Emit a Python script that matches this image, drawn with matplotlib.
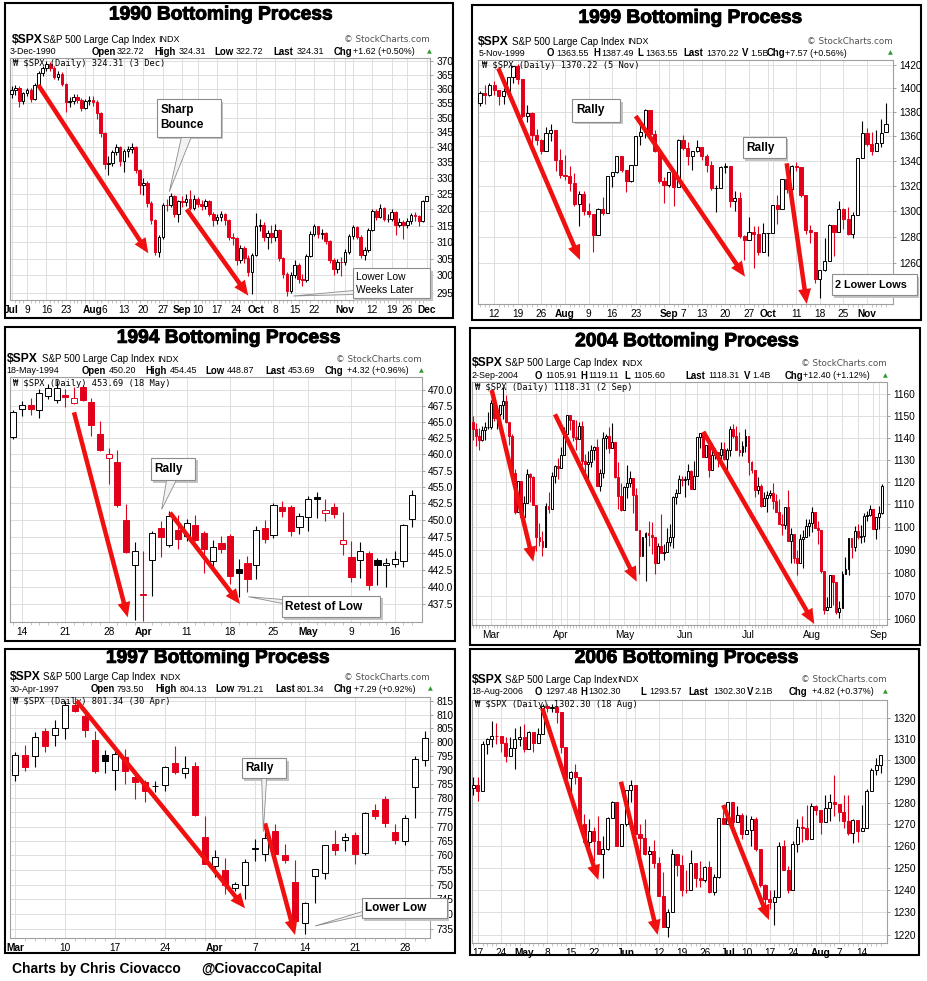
import numpy as np
import pandas as pd
import matplotlib
matplotlib.use("Agg")
import matplotlib.pyplot as plt
import matplotlib.patheffects as pe
from matplotlib.patches import FancyArrow, Rectangle, Polygon
from matplotlib.transforms import IdentityTransform
from matplotlib.ticker import FixedLocator, NullLocator, FuncFormatter

plt.rcParams["font.family"] = ["Liberation Sans", "DejaVu Sans"]

# ---------------- 1990 (Jul 2 - Dec 3) ----------------
o90 = [358.02, 359.54, 360.16, 355.68, 358.42, 359.52, 356.49, 361.23, 365.44, 367.31,
       368.95, 367.52, 364.22, 365.32, 361.61, 355.31, 355.79, 357.09, 355.91, 353.44,
       355.55, 356.15, 355.52, 351.48, 344.86, 334.43, 334.83, 338.35, 339.94, 335.52,
       338.84, 339.39, 340.06, 332.39, 327.83, 328.51, 321.86, 316.55, 307.06, 311.51,
       321.44, 321.34, 324.19, 318.71, 322.56, 322.21, 323.40, 320.46, 323.40, 321.63,
       321.04, 322.54, 318.65, 316.83, 317.77, 318.60, 316.60, 311.48, 311.32, 304.59,
       308.26, 305.06, 300.97, 306.05, 314.94, 315.21, 311.40, 312.69, 311.50, 313.48,
       305.10, 300.39, 295.46, 300.03, 303.23, 298.92, 298.76, 305.74, 312.48, 314.76,
       312.36, 312.60, 310.17, 304.71, 301.88, 304.06, 303.99, 307.02, 311.85, 314.59,
       311.62, 306.01, 307.61, 313.74, 319.48, 317.67, 320.40, 317.02, 317.12, 319.34,
       315.31, 316.03, 315.10, 316.51, 318.10, 317.95, 316.42, 322.72]
h90 = [361.0, 361.3, 360.8, 359.0, 360.3, 360.2, 361.9, 366.2, 368.2, 369.8,
       369.4, 368.2, 366.3, 366.0, 361.9, 357.0, 358.2, 358.0, 356.6, 356.4,
       357.6, 357.5, 356.0, 352.0, 345.1, 337.0, 339.2, 341.0, 340.5, 339.6,
       340.4, 341.3, 340.3, 332.8, 329.9, 329.0, 322.5, 317.0, 312.2, 322.0,
       323.4, 325.3, 324.5, 323.0, 324.2, 324.8, 326.2, 324.4, 324.0, 322.8,
       323.2, 323.0, 319.3, 318.7, 319.5, 318.9, 317.0, 312.6, 311.6, 309.2,
       308.9, 306.0, 306.8, 319.0, 317.0, 316.0, 313.6, 315.2, 315.6, 313.8,
       305.6, 301.0, 301.0, 304.5, 303.8, 300.4, 306.3, 313.2, 315.6, 315.0,
       314.0, 313.0, 310.6, 305.2, 305.0, 305.5, 307.8, 312.4, 315.3, 315.0,
       312.0, 308.4, 314.2, 320.0, 320.2, 321.8, 320.8, 318.6, 320.0, 319.6,
       317.2, 316.8, 317.3, 318.8, 319.2, 318.3, 323.0, 324.31]
l90 = [356.9, 357.8, 353.8, 354.6, 357.3, 355.3, 356.0, 360.8, 364.5, 366.2,
       366.4, 363.5, 363.2, 360.8, 352.0, 353.6, 354.8, 354.9, 352.3, 352.8,
       354.4, 354.0, 349.6, 343.3, 333.0, 331.0, 333.8, 337.4, 334.0, 332.0,
       336.9, 338.2, 331.6, 325.0, 324.5, 320.8, 315.5, 306.0, 305.6, 310.8,
       319.6, 320.6, 317.5, 316.0, 320.8, 321.0, 319.8, 319.8, 320.8, 319.9,
       320.2, 317.9, 315.0, 315.6, 316.4, 315.3, 310.5, 309.0, 303.0, 303.8,
       303.6, 299.8, 294.6, 305.8, 313.2, 310.4, 308.0, 309.6, 310.2, 304.4,
       299.2, 294.0, 295.0, 299.4, 297.8, 296.8, 298.0, 305.4, 311.8, 311.2,
       310.8, 309.3, 303.8, 300.2, 300.8, 299.8, 303.2, 306.5, 311.0, 310.8,
       305.2, 304.7, 307.0, 313.2, 316.8, 317.2, 316.3, 316.0, 316.5, 312.0,
       314.6, 311.0, 314.3, 315.6, 316.4, 315.0, 316.0, 322.72]
c90 = [359.54, 360.16, 355.68, 358.42, 359.52, 356.49, 361.23, 365.44, 367.31, 368.95,
       367.52, 364.22, 365.32, 361.61, 355.31, 355.79, 357.09, 355.91, 353.44, 355.55,
       356.15, 355.52, 351.48, 344.86, 334.43, 334.83, 338.35, 339.94, 335.52, 338.84,
       339.39, 340.06, 332.39, 327.83, 328.51, 321.86, 316.55, 307.06, 311.51, 321.44,
       321.34, 324.19, 318.71, 322.56, 322.21, 323.40, 320.46, 323.40, 321.63, 321.04,
       322.54, 318.65, 316.83, 317.77, 318.60, 316.60, 311.48, 311.32, 304.59, 308.26,
       305.06, 300.97, 306.05, 314.94, 315.21, 311.40, 312.69, 311.50, 313.48, 305.10,
       300.39, 295.46, 300.03, 303.23, 298.92, 298.76, 305.74, 312.48, 314.76, 312.36,
       312.60, 310.17, 304.71, 301.88, 304.06, 303.99, 307.02, 311.85, 314.59, 311.62,
       306.01, 307.61, 313.74, 319.48, 317.67, 320.40, 317.02, 317.12, 319.34, 315.31,
       316.03, 315.10, 316.51, 318.10, 317.95, 316.42, 322.69, 324.31]
t90 = [("1990-07-02", "Jul"), ("1990-07-09", "9"), ("1990-07-16", "16"), ("1990-07-23", "23"),
       ("1990-08-01", "Aug"), ("1990-08-06", "6"), ("1990-08-13", "13"), ("1990-08-20", "20"),
       ("1990-08-27", "27"), ("1990-09-04", "Sep"), ("1990-09-10", "10"), ("1990-09-17", "17"),
       ("1990-09-24", "24"), ("1990-10-01", "Oct"), ("1990-10-08", "8"), ("1990-10-15", "15"),
       ("1990-10-22", "22"), ("1990-11-01", "Nov"), ("1990-11-12", "12"), ("1990-11-19", "19"),
       ("1990-11-26", "26"), ("1990-12-03", "Dec")]

# ---------------- 1999 (Jul 7 - Nov 5) ----------------
o99 = [1388.12, 1395.86, 1394.42, 1403.28, 1399.10, 1393.56, 1398.17, 1409.62, 1418.78, 1407.65,
       1377.10, 1379.29, 1360.97, 1356.94, 1347.76, 1362.84, 1365.40, 1341.03, 1328.72, 1328.05,
       1322.18, 1305.33, 1313.71, 1300.29, 1297.80, 1281.43, 1301.93, 1298.16, 1327.68, 1330.77,
       1344.16, 1332.84, 1323.59, 1336.61, 1360.22, 1363.50, 1381.79, 1362.01, 1348.27, 1324.02,
       1320.41, 1331.07, 1319.11, 1357.24, 1350.45, 1344.15, 1347.66, 1351.66, 1344.13, 1336.29,
       1317.97, 1318.48, 1335.42, 1335.53, 1307.58, 1310.51, 1280.41, 1277.36, 1283.31, 1282.20,
       1268.37, 1282.71, 1282.81, 1304.60, 1301.35, 1325.40, 1317.64, 1336.02, 1335.21, 1313.04,
       1285.55, 1283.42, 1247.41, 1254.13, 1261.32, 1289.43, 1283.61, 1301.65, 1293.63, 1281.91,
       1296.71, 1342.44, 1362.93, 1354.12, 1347.74, 1354.93, 1363.55]
h99 = [1398.0, 1403.0, 1404.5, 1406.0, 1399.1, 1400.0, 1410.0, 1418.8, 1421.0, 1407.7,
       1386.0, 1380.0, 1366.0, 1358.0, 1368.0, 1370.0, 1365.4, 1350.0, 1345.0, 1336.0,
       1330.0, 1316.0, 1316.0, 1306.0, 1298.0, 1302.0, 1311.0, 1327.7, 1331.0, 1344.2,
       1344.2, 1332.8, 1336.6, 1360.2, 1373.0, 1382.8, 1381.8, 1365.0, 1350.0, 1327.0,
       1331.1, 1331.1, 1357.7, 1361.0, 1355.0, 1347.7, 1357.0, 1351.7, 1346.0, 1340.0,
       1321.0, 1335.6, 1338.0, 1335.5, 1316.0, 1315.0, 1281.0, 1295.0, 1288.0, 1288.0,
       1291.0, 1283.2, 1304.6, 1313.0, 1325.5, 1328.0, 1337.0, 1339.0, 1335.2, 1313.0,
       1289.0, 1283.4, 1254.2, 1279.0, 1289.5, 1289.4, 1308.0, 1302.0, 1303.0, 1299.0,
       1342.5, 1373.0, 1367.0, 1364.0, 1365.0, 1374.0, 1387.49]
l99 = [1385.0, 1386.6, 1393.6, 1394.5, 1386.0, 1386.5, 1398.0, 1404.5, 1404.0, 1375.0,
       1372.0, 1354.0, 1353.0, 1346.0, 1347.7, 1356.0, 1332.0, 1326.0, 1325.0, 1316.0,
       1304.0, 1288.0, 1297.0, 1295.0, 1268.0, 1281.4, 1297.0, 1298.2, 1319.0, 1330.0,
       1331.0, 1315.0, 1323.0, 1336.6, 1353.0, 1359.0, 1361.0, 1347.0, 1322.0, 1306.0,
       1319.0, 1304.0, 1319.1, 1349.0, 1337.0, 1333.0, 1347.0, 1341.0, 1331.0, 1317.0,
       1299.0, 1318.0, 1330.0, 1303.0, 1300.0, 1279.0, 1262.0, 1277.3, 1256.0, 1266.0,
       1268.0, 1265.0, 1282.8, 1290.0, 1301.4, 1314.0, 1302.0, 1332.0, 1311.0, 1282.0,
       1275.0, 1245.0, 1233.7, 1254.0, 1261.3, 1265.0, 1283.6, 1286.0, 1281.0, 1279.0,
       1296.7, 1342.4, 1352.0, 1345.0, 1347.7, 1351.0, 1363.55]
c99 = [1395.86, 1394.42, 1403.28, 1399.10, 1393.56, 1398.17, 1409.62, 1418.78, 1407.65, 1377.10,
       1379.29, 1360.97, 1356.94, 1347.76, 1362.84, 1365.40, 1341.03, 1328.72, 1328.05, 1322.18,
       1305.33, 1313.71, 1300.29, 1297.80, 1281.43, 1301.93, 1298.16, 1327.68, 1330.77, 1344.16,
       1332.84, 1323.59, 1336.61, 1360.22, 1363.50, 1381.79, 1362.01, 1348.27, 1324.02, 1320.41,
       1331.07, 1319.11, 1357.24, 1350.45, 1344.15, 1347.66, 1351.66, 1344.13, 1336.29, 1317.97,
       1318.48, 1335.42, 1335.53, 1307.58, 1310.51, 1280.41, 1277.36, 1283.31, 1282.20, 1268.37,
       1282.71, 1282.81, 1304.60, 1301.35, 1325.40, 1317.64, 1336.02, 1335.21, 1313.04, 1285.55,
       1283.42, 1247.41, 1254.13, 1261.32, 1289.43, 1283.61, 1301.65, 1293.63, 1281.91, 1296.71,
       1342.44, 1362.93, 1354.12, 1347.74, 1354.93, 1362.64, 1370.23]
t99 = [("1999-07-12", "12"), ("1999-07-19", "19"), ("1999-07-26", "26"), ("1999-08-02", "Aug"),
       ("1999-08-09", "9"), ("1999-08-16", "16"), ("1999-08-23", "23"), ("1999-09-01", "Sep"),
       ("1999-09-07", "7"), ("1999-09-13", "13"), ("1999-09-20", "20"), ("1999-09-27", "27"),
       ("1999-10-01", "Oct"), ("1999-10-11", "11"), ("1999-10-18", "18"), ("1999-10-25", "25"),
       ("1999-11-01", "Nov")]

# ---------------- 1994 (Mar 11 - May 18) ----------------
o94 = [462.6, 467.0, 467.6, 466.8, 469.0, 468.4, 469.2, 468.0, 470.4, 468.1,
       463.2, 459.4, 458.8, 450.0, 443.3, 438.8, 444.0, 448.8, 446.3, 448.5,
       447.6, 449.3, 448.0, 443.8, 446.5, 447.6, 442.6, 443.6, 443.3, 448.8,
       447.8, 452.0, 452.0, 448.9, 450.4, 453.5, 451.0, 452.0, 446.4, 444.5,
       444.0, 445.0, 444.0, 443.2, 443.4, 443.9, 450.2]
h94 = [466.8, 468.2, 468.8, 470.2, 471.0, 471.5, 470.2, 470.4, 470.8, 468.8,
       465.2, 461.0, 460.6, 452.4, 446.7, 445.3, 448.4, 449.8, 451.3, 450.8,
       450.2, 450.7, 448.4, 447.0, 447.6, 447.9, 444.1, 444.6, 449.1, 450.0,
       452.6, 452.8, 452.3, 451.0, 453.6, 454.2, 453.2, 452.6, 451.2, 446.9,
       446.7, 445.4, 444.3, 444.3, 445.4, 449.4, 454.45]
l94 = [462.4, 466.0, 466.1, 465.6, 468.6, 467.9, 467.3, 467.8, 468.3, 462.8,
       460.5, 455.5, 452.0, 445.0, 435.2, 435.0, 438.7, 444.5, 446.0, 445.6,
       446.8, 446.9, 442.0, 443.0, 445.1, 440.5, 438.6, 439.2, 441.2, 446.5,
       447.3, 450.4, 447.6, 447.9, 448.4, 450.3, 449.8, 450.3, 444.7, 440.8,
       441.3, 439.6, 440.3, 440.0, 443.0, 443.0, 448.87]
c94 = [466.5, 467.6, 467.0, 469.5, 470.3, 470.3, 468.9, 468.8, 468.5, 464.5,
       460.6, 460.0, 452.3, 445.2, 445.3, 438.9, 448.0, 447.5, 450.6, 447.1,
       449.6, 447.0, 445.6, 446.0, 445.7, 441.6, 442.0, 441.2, 448.5, 447.2,
       452.3, 451.3, 448.4, 450.6, 453.1, 453.2, 451.5, 450.9, 447.0, 441.4,
       445.3, 440.3, 443.2, 443.6, 444.2, 449.3, 453.69]
t94 = [("1994-03-14", "14"), ("1994-03-21", "21"), ("1994-03-28", "28"), ("1994-04-04", "Apr"),
       ("1994-04-11", "11"), ("1994-04-18", "18"), ("1994-04-25", "25"), ("1994-05-02", "May"),
       ("1994-05-09", "9"), ("1994-05-16", "16")]

# ---------------- 2004 (Feb 20 - Sep 2) ----------------
o04 = [1147.00, 1144.11, 1140.99, 1139.09, 1143.67, 1144.91, 1144.94, 1155.97, 1149.10, 1151.03,
       1154.87, 1156.86, 1147.20, 1140.58, 1123.89, 1106.78, 1120.57, 1104.49, 1110.70, 1123.75,
       1122.32, 1109.78, 1095.40, 1093.95, 1091.33, 1109.19, 1108.06, 1122.47, 1127.00, 1126.21,
       1132.17, 1141.81, 1150.57, 1148.16, 1140.53, 1139.32, 1145.20, 1129.44, 1128.17, 1128.84,
       1134.61, 1135.82, 1118.15, 1124.09, 1139.93, 1140.60, 1135.53, 1138.11, 1122.41, 1113.89,
       1107.30, 1117.49, 1119.55, 1121.53, 1113.99, 1098.70, 1087.12, 1095.45, 1097.28, 1096.44,
       1095.70, 1084.10, 1091.49, 1088.68, 1089.19, 1093.56, 1095.41, 1113.05, 1114.94, 1121.28,
       1120.68, 1121.20, 1124.99, 1116.64, 1122.50, 1140.42, 1142.18, 1131.33, 1136.47, 1125.29,
       1132.01, 1133.56, 1132.05, 1135.02, 1130.30, 1134.41, 1144.06, 1140.65, 1134.43, 1133.35,
       1136.20, 1140.84, 1128.94, 1125.38, 1116.21, 1118.33, 1109.11, 1112.81, 1114.35, 1115.14,
       1111.47, 1106.69, 1101.39, 1100.90, 1108.67, 1093.88, 1096.84, 1086.20, 1084.07, 1094.83,
       1095.42, 1100.43, 1101.72, 1106.62, 1099.69, 1098.63, 1080.70, 1063.97, 1065.22, 1079.04,
       1075.79, 1063.23, 1064.80, 1079.34, 1081.71, 1095.17, 1091.23, 1098.35, 1095.68, 1096.19,
       1104.96, 1105.09, 1107.77, 1099.15, 1104.24, 1105.91]
h04 = [1149.8, 1146.7, 1144.5, 1145.2, 1147.4, 1151.7, 1157.5, 1157.0, 1152.4, 1155.0,
       1163.2, 1159.9, 1147.3, 1141.5, 1126.0, 1120.6, 1120.6, 1113.8, 1125.8, 1123.8,
       1122.7, 1109.8, 1101.5, 1098.3, 1110.4, 1115.3, 1124.4, 1127.6, 1130.8, 1135.7,
       1144.8, 1150.6, 1150.6, 1148.2, 1148.0, 1147.3, 1147.8, 1132.5, 1134.1, 1136.8,
       1136.2, 1139.3, 1125.7, 1142.8, 1141.9, 1145.1, 1146.6, 1138.1, 1128.8, 1119.3,
       1118.2, 1127.7, 1125.1, 1121.5, 1117.3, 1098.7, 1095.7, 1097.6, 1102.8, 1102.1,
       1095.7, 1092.9, 1105.9, 1092.6, 1099.6, 1101.3, 1113.8, 1116.7, 1123.0, 1122.7,
       1122.7, 1128.1, 1125.3, 1129.2, 1140.5, 1142.2, 1142.2, 1136.5, 1136.5, 1137.4,
       1135.3, 1133.6, 1138.0, 1138.0, 1135.1, 1145.2, 1146.3, 1145.2, 1142.6, 1138.3,
       1144.2, 1140.8, 1129.2, 1125.4, 1122.4, 1119.1, 1115.6, 1116.1, 1116.3, 1119.6,
       1114.6, 1112.2, 1105.5, 1108.9, 1116.3, 1099.7, 1096.8, 1089.8, 1096.7, 1098.6,
       1103.5, 1103.3, 1108.6, 1106.6, 1102.5, 1098.8, 1080.7, 1069.5, 1079.0, 1079.1,
       1075.8, 1067.6, 1080.7, 1086.8, 1095.2, 1095.2, 1100.3, 1101.4, 1100.9, 1106.3,
       1106.8, 1109.7, 1107.8, 1104.3, 1109.2, 1119.11]
l04 = [1139.0, 1136.0, 1134.4, 1138.6, 1138.8, 1144.0, 1143.9, 1147.7, 1143.8, 1149.8,
       1148.8, 1146.9, 1136.8, 1122.5, 1105.9, 1106.8, 1103.4, 1102.6, 1110.7, 1111.1,
       1109.7, 1089.5, 1091.6, 1087.2, 1091.3, 1106.1, 1108.1, 1119.7, 1121.5, 1126.2,
       1132.2, 1141.6, 1143.3, 1138.4, 1134.5, 1139.3, 1127.7, 1122.2, 1120.8, 1126.9,
       1129.8, 1118.1, 1116.0, 1121.9, 1134.8, 1132.9, 1135.5, 1121.7, 1108.0, 1107.2,
       1107.3, 1112.9, 1117.9, 1106.3, 1098.6, 1079.6, 1087.1, 1076.3, 1091.8, 1088.2,
       1079.4, 1084.1, 1088.5, 1085.4, 1089.2, 1091.8, 1090.7, 1109.9, 1114.9, 1118.1,
       1113.3, 1118.6, 1116.6, 1116.6, 1122.5, 1135.5, 1131.2, 1131.3, 1122.2, 1125.3,
       1130.5, 1126.9, 1129.6, 1129.8, 1124.4, 1131.7, 1139.9, 1134.4, 1131.7, 1131.5,
       1133.6, 1123.1, 1124.1, 1113.2, 1114.5, 1108.7, 1109.1, 1106.7, 1112.9, 1107.8,
       1106.7, 1101.1, 1096.6, 1099.1, 1093.9, 1084.2, 1084.2, 1078.8, 1084.1, 1082.2,
       1095.4, 1096.0, 1097.6, 1099.3, 1092.4, 1079.9, 1062.2, 1063.9, 1065.2, 1065.9,
       1062.4, 1060.7, 1064.8, 1079.3, 1078.9, 1086.3, 1089.6, 1094.7, 1092.8, 1093.2,
       1102.5, 1104.6, 1099.1, 1094.7, 1099.2, 1105.6]
c04 = [1144.11, 1140.99, 1139.09, 1143.67, 1144.91, 1144.94, 1155.97, 1149.10, 1151.03, 1154.87,
       1156.86, 1147.20, 1140.58, 1123.89, 1106.78, 1120.57, 1104.49, 1110.70, 1123.75, 1122.32,
       1109.78, 1095.40, 1093.95, 1091.33, 1109.19, 1108.06, 1122.47, 1127.00, 1126.21, 1132.17,
       1141.81, 1150.57, 1148.16, 1140.53, 1139.32, 1145.20, 1129.44, 1128.17, 1128.84, 1134.61,
       1135.82, 1118.15, 1124.09, 1139.93, 1140.60, 1135.53, 1138.11, 1122.41, 1113.89, 1107.30,
       1117.49, 1119.55, 1121.53, 1113.99, 1098.70, 1087.12, 1095.45, 1097.28, 1096.44, 1095.70,
       1084.10, 1091.49, 1088.68, 1089.19, 1093.56, 1095.41, 1113.05, 1114.94, 1121.28, 1120.68,
       1121.20, 1124.99, 1116.64, 1122.50, 1140.42, 1142.18, 1131.33, 1136.47, 1125.29, 1132.01,
       1133.56, 1132.05, 1135.02, 1130.30, 1134.41, 1144.06, 1140.65, 1134.43, 1133.35, 1136.20,
       1140.84, 1128.94, 1125.38, 1116.21, 1118.33, 1109.11, 1112.81, 1114.35, 1115.14, 1111.47,
       1106.69, 1101.39, 1100.90, 1108.67, 1093.88, 1096.84, 1086.20, 1084.07, 1094.83, 1095.42,
       1100.43, 1101.72, 1106.62, 1099.69, 1098.63, 1080.70, 1063.97, 1065.22, 1079.04, 1075.79,
       1063.23, 1064.80, 1079.34, 1081.71, 1095.17, 1091.23, 1098.35, 1095.68, 1096.19, 1104.96,
       1105.09, 1107.77, 1099.15, 1104.24, 1105.91, 1118.31]
t04 = [("2004-03-01", "Mar"), ("2004-04-01", "Apr"), ("2004-05-03", "May"), ("2004-06-01", "Jun"),
       ("2004-07-01", "Jul"), ("2004-08-02", "Aug"), ("2004-09-01", "Sep")]

# ---------------- 1997 (Mar 3 - Apr 30) ----------------
o97 = [788.0, 795.2, 795.0, 804.0, 802.5, 805.2, 813.6, 809.6, 800.8, 795.2,
       790.0, 794.5, 787.5, 785.8, 784.2, 784.5, 792.5, 789.0, 791.2, 766.5,
       756.3, 755.0, 749.0, 750.0, 762.6, 760.5, 768.5, 760.2, 751.0, 737.0,
       752.9, 754.0, 763.8, 765.2, 767.0, 760.8, 775.9, 779.5, 768.0, 765.0,
       784.0, 793.5]
h97 = [796.5, 799.0, 803.5, 805.0, 808.0, 815.0, 817.0, 810.5, 804.0, 797.0,
       798.4, 797.5, 789.0, 786.5, 786.0, 791.5, 798.4, 795.0, 792.8, 773.5,
       761.9, 759.0, 751.0, 758.8, 765.5, 770.0, 771.0, 764.0, 758.5, 744.0,
       755.3, 763.7, 768.8, 767.7, 768.0, 775.0, 778.0, 780.8, 771.0, 774.0,
       795.0, 804.13]
l97 = [786.0, 789.5, 791.0, 796.5, 798.5, 801.0, 811.0, 802.0, 789.0, 789.0,
       782.8, 785.0, 779.5, 778.5, 782.0, 782.5, 788.5, 787.0, 773.5, 757.0,
       752.5, 747.0, 748.0, 745.0, 758.0, 758.0, 756.0, 757.5, 736.0, 733.5,
       743.7, 752.0, 760.0, 761.5, 757.0, 760.0, 772.5, 770.0, 764.0, 763.5,
       773.0, 791.21]
c97 = [795.3, 791.0, 802.0, 798.6, 805.0, 813.6, 811.3, 804.3, 789.6, 793.2,
       795.7, 789.7, 785.8, 782.6, 784.1, 790.9, 789.1, 790.5, 773.9, 757.1,
       759.6, 749.8, 750.3, 757.9, 762.1, 766.1, 760.6, 758.3, 737.7, 743.7,
       755.3, 763.5, 761.8, 766.3, 760.4, 774.6, 773.6, 771.2, 765.4, 773.0,
       794.05, 801.34]
t97 = [("1997-03-03", "Mar"), ("1997-03-10", "10"), ("1997-03-17", "17"), ("1997-03-24", "24"),
       ("1997-04-01", "Apr"), ("1997-04-07", "7"), ("1997-04-14", "14"), ("1997-04-21", "21"),
       ("1997-04-28", "28")]

# ---------------- 2006 (Apr 13 - Aug 18) ----------------
o06 = [1286.60, 1288.12, 1285.33, 1307.28, 1309.93, 1311.46, 1311.28, 1308.11, 1301.74, 1305.41,
       1309.72, 1310.61, 1305.19, 1313.21, 1307.85, 1312.25, 1325.76, 1324.66, 1325.14, 1322.85,
       1305.92, 1291.24, 1294.50, 1292.08, 1270.32, 1261.81, 1267.03, 1262.07, 1256.58, 1258.57,
       1272.88, 1280.16, 1259.87, 1270.09, 1285.71, 1288.22, 1265.29, 1263.85, 1256.15, 1257.93,
       1252.30, 1237.44, 1223.69, 1230.04, 1256.16, 1251.54, 1240.13, 1240.12, 1252.20, 1245.60,
       1244.50, 1250.56, 1239.20, 1246.00, 1272.87, 1270.20, 1280.19, 1270.91, 1274.08, 1265.48,
       1267.34, 1272.43, 1258.60, 1242.28, 1236.20, 1234.49, 1236.86, 1259.81, 1249.13, 1240.29,
       1260.91, 1268.88, 1268.40, 1263.20, 1278.55, 1276.66, 1270.92, 1277.41, 1280.27, 1279.36,
       1275.77, 1271.48, 1265.95, 1271.81, 1266.74, 1268.21, 1285.58, 1295.43, 1297.48]
h06 = [1292.1, 1292.1, 1309.0, 1310.4, 1318.2, 1317.7, 1311.3, 1310.8, 1310.9, 1315.0,
       1316.0, 1317.2, 1313.7, 1313.2, 1315.1, 1326.5, 1326.6, 1326.6, 1325.2, 1322.9,
       1305.9, 1294.8, 1297.9, 1292.1, 1274.9, 1272.2, 1268.8, 1273.7, 1264.5, 1273.3,
       1280.5, 1280.2, 1270.2, 1285.7, 1290.7, 1288.2, 1269.9, 1272.5, 1259.9, 1262.6,
       1255.2, 1248.4, 1231.5, 1258.6, 1256.3, 1255.9, 1249.0, 1258.0, 1252.2, 1253.1,
       1250.9, 1253.4, 1247.1, 1272.9, 1276.3, 1280.2, 1280.2, 1278.3, 1275.3, 1274.1,
       1273.8, 1273.3, 1258.6, 1242.9, 1240.1, 1240.1, 1261.8, 1262.6, 1251.0, 1262.5,
       1272.4, 1273.6, 1279.0, 1280.0, 1278.7, 1276.7, 1283.4, 1284.0, 1292.9, 1279.4,
       1283.3, 1283.7, 1272.6, 1271.9, 1278.9, 1286.2, 1296.2, 1300.8, 1302.3]
l06 = [1283.4, 1280.7, 1285.3, 1302.8, 1306.1, 1307.5, 1303.8, 1299.2, 1301.7, 1295.8,
       1306.4, 1303.5, 1305.2, 1303.9, 1307.8, 1312.2, 1322.5, 1322.5, 1317.4, 1303.4,
       1290.2, 1284.5, 1288.5, 1267.3, 1261.8, 1257.2, 1253.0, 1256.2, 1245.3, 1258.4,
       1272.8, 1259.8, 1259.8, 1269.2, 1280.2, 1264.7, 1254.8, 1255.8, 1235.2, 1250.0,
       1237.2, 1223.6, 1219.3, 1230.0, 1246.3, 1237.2, 1238.9, 1240.1, 1241.4, 1241.4,
       1243.7, 1238.9, 1237.6, 1245.6, 1270.2, 1270.2, 1265.9, 1270.8, 1263.1, 1265.4,
       1260.1, 1257.8, 1241.4, 1228.5, 1231.5, 1224.5, 1236.8, 1249.1, 1238.7, 1240.2,
       1257.2, 1261.9, 1262.8, 1263.2, 1274.3, 1265.7, 1270.9, 1271.3, 1273.8, 1271.4,
       1268.4, 1265.0, 1261.3, 1261.8, 1266.7, 1268.2, 1285.5, 1292.7, 1293.57]
c06 = [1288.12, 1285.33, 1307.28, 1309.93, 1311.46, 1311.28, 1308.11, 1301.74, 1305.41, 1309.72,
       1310.61, 1305.19, 1313.21, 1307.85, 1312.25, 1325.76, 1324.66, 1325.14, 1322.85, 1305.92,
       1291.24, 1294.50, 1292.08, 1270.32, 1261.81, 1267.03, 1262.07, 1256.58, 1258.57, 1272.88,
       1280.16, 1259.87, 1270.09, 1285.71, 1288.22, 1265.29, 1263.85, 1256.15, 1257.93, 1252.30,
       1237.44, 1223.69, 1230.04, 1256.16, 1251.54, 1240.13, 1240.12, 1252.20, 1245.60, 1244.50,
       1250.56, 1239.20, 1246.00, 1272.87, 1270.20, 1280.19, 1270.91, 1274.08, 1265.48, 1267.34,
       1272.43, 1258.60, 1242.28, 1236.20, 1234.49, 1236.86, 1259.81, 1249.13, 1240.29, 1260.91,
       1268.88, 1268.40, 1263.20, 1278.55, 1276.66, 1270.92, 1277.41, 1280.27, 1279.36, 1275.77,
       1271.48, 1265.95, 1271.81, 1266.74, 1268.21, 1285.58, 1295.43, 1297.48, 1302.30]
t06 = [("2006-04-17", "17"), ("2006-04-24", "24"), ("2006-05-01", "May"), ("2006-05-08", "8"),
       ("2006-05-15", "15"), ("2006-05-22", "22"), ("2006-06-01", "Jun"), ("2006-06-12", "12"),
       ("2006-06-19", "19"), ("2006-06-26", "26"), ("2006-07-03", "Jul"), ("2006-07-10", "10"),
       ("2006-07-17", "17"), ("2006-07-24", "24"), ("2006-08-01", "Aug"), ("2006-08-07", "7"),
       ("2006-08-14", "14")]

# ---------------- layout ----------------
W, H = 927, 981
RED = "#e3001b"
ARROW = "#f01010"
GRID = "#dedede"
PIX = IdentityTransform()

fig = plt.figure(figsize=(W / 100, H / 100), dpi=100)
fig.patch.set_facecolor("white")


def ftext(x, y, s, **kw):
    kw.setdefault("parse_math", False)
    return fig.text(x / W, 1 - y / H, s, **kw)


def draw_box(box, text, wedge=None, bold=True, size=8.5):
    x0, y0, x1, y1 = box
    fig.add_artist(Rectangle((x0 + 2.5, H - y1 - 2.5), x1 - x0, y1 - y0, transform=PIX,
                             fc="#c4c4c4", ec="none", zorder=30))
    if wedge:
        fig.add_artist(Polygon([(x, H - y) for x, y in wedge], closed=True, transform=PIX,
                               fc="#f2f2f2", ec="#8c8c8c", lw=0.6, zorder=31))
    fig.add_artist(Rectangle((x0, H - y1), x1 - x0, y1 - y0, transform=PIX,
                             fc="white", ec="#8c8c8c", lw=0.8, zorder=32))
    ftext(x0 + 3.5, (y0 + y1) / 2, text, ha="left", va="center", size=size,
          weight="bold" if bold else "normal", linespacing=1.3, zorder=33)


def draw_panel(p):
    fl, ft, fr, fb = p["frame"]
    fig.add_artist(Rectangle((fl, H - fb), fr - fl, fb - ft, transform=PIX,
                             fill=False, ec="black", lw=1.5, zorder=1))
    al, at, ar, ab = p["ax"]
    ax = fig.add_axes([al / W, 1 - ab / H, (ar - al) / W, (ab - at) / H])
    ax.set_yscale("log")

    days = pd.bdate_range(p["start"], p["end"])
    days = days[~days.isin(pd.to_datetime(p["holidays"]))]
    o, h, l, c = (np.asarray(a, float) for a in p["ohlc"])
    n = min(len(days), len(c))
    o, h, l, c = o[:n], h[:n], l[:n], c[:n]
    x = np.arange(n)
    prev = np.r_[o[0], c[:-1]]
    edge = np.where(c < prev, RED, "black")
    face = np.where(c > o, "white", edge)
    lo, hi = np.minimum(o, c), np.maximum(o, c)
    ax.vlines(x, l, h, colors=list(edge), lw=0.8, zorder=3)
    ax.bar(x, hi - lo, bottom=lo, width=p["bw"], color=list(face),
           edgecolor=list(edge), linewidth=0.7, zorder=4)

    x0, dx = p["xmap"]
    ax.set_xlim((al - x0) / dx, (ar - x0) / dx)
    v1, y1, v2, y2 = p["ycal"]
    ax.set_ylim(v1 * (v2 / v1) ** ((ab - y1) / (y2 - y1)),
                v1 * (v2 / v1) ** ((at - y1) / (y2 - y1)))

    tick_idx = days[:n].get_indexer(pd.to_datetime([d for d, _ in p["ticks"]]))
    ax.set_xticks(tick_idx)
    ax.set_xticklabels([s for _, s in p["ticks"]])
    if p["bold_months"]:
        for t in ax.get_xticklabels():
            if t.get_text().isalpha():
                t.set_fontweight("bold")
    ax.set_xticks(x, minor=True)
    ax.tick_params(axis="x", which="major", length=0, labelsize=7.3, pad=3.5)
    ax.tick_params(axis="x", which="minor", length=2, width=0.5, color="#b0b0b0")
    ax.yaxis.tick_right()
    ax.yaxis.set_major_locator(FixedLocator(p["yticks"]))
    ax.yaxis.set_minor_locator(NullLocator())
    ax.yaxis.set_major_formatter(FuncFormatter(lambda v, pos, f=p["yfmt"]: f.format(v)))
    ax.tick_params(axis="y", which="major", length=2.5, width=0.6, color="#909090",
                   labelsize=7.3, pad=2)

    wk = days[:n].isocalendar().week.values
    week_starts = [i for i in range(1, n) if wk[i] != wk[i - 1]]
    for xi in sorted(set(week_starts) | set(tick_idx.tolist())):
        ax.axvline(xi, color=GRID, lw=0.7, zorder=0)
    for yv in p["yticks"]:
        ax.axhline(yv, color=GRID, lw=0.7, zorder=0)
    for s in ax.spines.values():
        s.set_color("#a0a0a0")
        s.set_linewidth(0.8)

    tx, ty = p["title_xy"]
    ftext(tx, ty, p["title"], ha="center", va="center", size=13.8, weight="bold",
          path_effects=[pe.withStroke(linewidth=0.7, foreground="black")])
    ly, xs = p["line1"]
    ftext(xs[0], ly, "$SPX", ha="left", va="center", size=8.7, weight="bold")
    ftext(xs[1], ly, "S&P 500 Large Cap Index", ha="left", va="center", size=7)
    ftext(xs[2], ly, "INDX", ha="left", va="center", size=6.5)
    ftext(xs[3], ly, "© StockCharts.com", ha="right", va="center", size=6.3,
          family="DejaVu Sans", color="#505050")
    ly2, segs, tri_x = p["line2"]
    for sx, s, b in segs:
        ftext(sx, ly2, s, ha="left", va="center", size=6.9 if b else 6.4,
              weight="bold" if b else "normal")
    ftext(tri_x, ly2, "▲", ha="left", va="center", size=4.5, family="DejaVu Sans",
          color="#2e9a2e")
    dxp, dyp = p["daily_xy"]
    ftext(dxp, dyp, "₩ " + p["daily"], ha="left", va="center", size=6.3,
          family=["DejaVu Sans Mono", "DejaVu Sans"], zorder=5)

    for xa, ya, xb, yb in p["arrows"]:
        fig.add_artist(FancyArrow(xa, H - ya, xb - xa, -(yb - ya), width=4.5, head_width=13,
                                  head_length=15, length_includes_head=True, color=ARROW,
                                  lw=0, transform=PIX, zorder=25))
    for b in p["boxes"]:
        draw_box(**b)


panels = [
    dict(ohlc=(o90, h90, l90, c90), start="1990-07-02", end="1990-12-03",
         holidays=["1990-07-04", "1990-09-03", "1990-11-22"], ticks=t90, bold_months=True,
         yticks=np.arange(295, 371, 5), yfmt="{:.0f}", bw=0.68,
         frame=(5, 3, 453, 318), ax=(10, 58, 430, 300), xmap=(11.5, 3.88),
         ycal=(370, 60.7, 295, 292.7), title="1990 Bottoming Process", title_xy=(220.5, 15),
         line1=(40, (11.7, 43.3, 158.3, 430)),
         line2=(52, [(10, "3-Dec-1990", 0), (91.7, "Open", 1), (116.7, "322.72", 0),
                     (154.3, "High", 1), (179, "324.31", 0), (214.3, "Low", 1),
                     (235.3, "322.72", 0), (273.3, "Last", 1), (296.7, "324.31", 0),
                     (333.3, "Chg", 1), (353.3, "+1.62 (+0.50%)", 0)], 426.7),
         daily="$SPX (Daily) 324.31 (3 Dec)", daily_xy=(13, 63),
         arrows=[(38.3, 85, 148.3, 253.3), (186.7, 209.3, 248.3, 295.7)],
         boxes=[dict(box=(156.7, 99, 220.7, 136.7), text="Sharp\nBounce",
                     wedge=[(181.7, 136), (191.7, 136), (169.3, 191.7)]),
                dict(box=(352.7, 268.3, 430, 298.3), text="Lower Low\nWeeks Later",
                     wedge=[(353.5, 290.5), (353.5, 294.5), (293.3, 296)], bold=False, size=7.4)]),
    dict(ohlc=(o99, h99, l99, c99), start="1999-07-07", end="1999-11-05",
         holidays=["1999-07-05", "1999-09-06"], ticks=t99, bold_months=True,
         yticks=np.arange(1260, 1421, 20), yfmt="{:.0f}", bw=0.68,
         frame=(472, 5, 921, 320), ax=(478, 60, 893, 304), xmap=(480, 4.72),
         ycal=(1420, 65, 1260, 262.7), title="1999 Bottoming Process", title_xy=(690, 18.3),
         line1=(42, (478.3, 511.7, 627.3, 893)),
         line2=(53, [(478.3, "5-Nov-1999", 0), (546.7, "O", 1), (556.7, "1363.55", 0),
                     (593.3, "H", 1), (601.5, "1387.49", 0), (637.7, "L", 1),
                     (645, "1363.55", 0), (683.3, "Last", 1), (706.7, "1370.22", 0),
                     (742.3, "V", 1), (750, "1.5B", 0), (766.7, "Chg", 1),
                     (785, "+7.57 (+0.56%)", 0)], 888.3),
         daily="$SPX (Daily) 1370.22 (5 Nov)", daily_xy=(481.7, 65),
         arrows=[(498.3, 68.3, 580, 260), (635.7, 116, 745, 276.7), (786.7, 163.3, 806.7, 304)],
         boxes=[dict(box=(572.3, 99.3, 620, 121.7), text="Rally"),
                dict(box=(742.7, 136.7, 785.7, 158.3), text="Rally"),
                dict(box=(831.7, 274, 916.7, 295), text="2 Lower Lows", size=7.8)]),
    dict(ohlc=(o94, h94, l94, c94), start="1994-03-11", end="1994-05-18",
         holidays=["1994-04-01", "1994-04-27"], ticks=t94, bold_months=True,
         yticks=np.arange(437.5, 470.1, 2.5), yfmt="{:.1f}", bw=0.72,
         frame=(5, 327, 455, 641), ax=(10, 377, 422, 622), xmap=(13.3, 8.67),
         ycal=(470, 390, 437.5, 604), title="1994 Bottoming Process", title_xy=(228.3, 338.3),
         line1=(359.3, (6.7, 41.7, 156.7, 421.7)),
         line2=(370.7, [(6.7, "18-May-1994", 0), (81.7, "Open", 1), (108.3, "450.20", 0),
                        (145, "High", 1), (170, "454.45", 0), (205, "Low", 1),
                        (226.7, "448.87", 0), (265, "Last", 1), (287.3, "453.69", 0),
                        (325, "Chg", 1), (346.7, "+4.32 (+0.96%)", 0)], 419.3),
         daily="$SPX (Daily) 453.69 (18 May)", daily_xy=(12.7, 383.3),
         arrows=[(74, 412.3, 127.7, 617.3), (170, 512.7, 240, 604)],
         boxes=[dict(box=(150.7, 457.7, 195, 480), text="Rally",
                     wedge=[(166.7, 479.5), (176.7, 479.5), (161.7, 509.3)]),
                dict(box=(281.7, 595.7, 380, 617.3), text="Retest of Low",
                     wedge=[(282.5, 599.5), (282.5, 603.5), (248.3, 596.7)])]),
    dict(ohlc=(o04, h04, l04, c04), start="2004-02-20", end="2004-09-02",
         holidays=["2004-04-09", "2004-05-31", "2004-06-11", "2004-07-05"], ticks=t04,
         bold_months=False, yticks=np.arange(1060, 1161, 10), yfmt="{:.0f}", bw=0.62,
         frame=(470, 328, 920, 645), ax=(472, 382, 887, 625), xmap=(472.8, 3.03),
         ycal=(1160, 394.3, 1060, 619.3), title="2004 Bottoming Process", title_xy=(686.7, 341.7),
         line1=(363.3, (471.7, 505, 621, 886.7)),
         line2=(375.7, [(471.7, "2-Sep-2004", 0), (535, "O", 1), (545, "1105.91", 0),
                        (580, "H", 1), (588, "1119.11", 0), (624.3, "L", 1),
                        (633.3, "1105.60", 0), (685, "Last", 1), (708.3, "1118.31", 0),
                        (744.3, "V", 1), (752.3, "1.4B", 0), (784.3, "Chg", 1),
                        (803.3, "+12.40 (+1.12%)", 0)], 883.3),
         daily="$SPX (Daily) 1118.31 (2 Sep)", daily_xy=(475, 387.3),
         arrows=[(491.7, 390, 533.3, 561.7), (555, 414.3, 636.7, 581.7),
                 (703.3, 431.7, 814.3, 624)],
         boxes=[]),
    dict(ohlc=(o97, h97, l97, c97), start="1997-03-03", end="1997-04-30",
         holidays=["1997-03-28"], ticks=t97, bold_months=True,
         yticks=np.arange(735, 816, 5), yfmt="{:.0f}", bw=0.66,
         frame=(5, 649, 455, 953), ax=(10, 697, 430, 938), xmap=(15, 10),
         ycal=(815, 701, 735, 929.3), title="1997 Bottoming Process", title_xy=(217.5, 658.3),
         line1=(677.3, (10, 43.3, 159.3, 430)),
         line2=(689, [(10, "30-Apr-1997", 0), (90.7, "Open", 1), (116.7, "793.50", 0),
                      (155, "High", 1), (180, "804.13", 0), (215, "Low", 1),
                      (236.7, "791.21", 0), (275, "Last", 1), (296.7, "801.34", 0),
                      (333.3, "Chg", 1), (354, "+7.29 (+0.92%)", 0)], 428.3),
         daily="$SPX (Daily) 801.34 (30 Apr)", daily_xy=(12.7, 701.5),
         arrows=[(76.7, 701, 245, 908.3), (265, 823.3, 295, 935)],
         boxes=[dict(box=(241.7, 758.3, 286, 778.3), text="Rally",
                     wedge=[(261.7, 777.8), (266.7, 777.8), (263.3, 831.7)]),
                dict(box=(361.7, 898.3, 446.7, 918.3), text="Lower Low",
                     wedge=[(362.5, 911.5), (362.5, 915.5), (315, 926)])]),
    dict(ohlc=(o06, h06, l06, c06), start="2006-04-13", end="2006-08-18",
         holidays=["2006-04-14", "2006-05-29", "2006-07-04"], ticks=t06, bold_months=True,
         yticks=np.arange(1220, 1321, 10), yfmt="{:.0f}", bw=0.66,
         frame=(470, 649, 919, 955), ax=(471.7, 700, 887, 943), xmap=(473.3, 4.63),
         ycal=(1320, 717.7, 1220, 935), title="2006 Bottoming Process", title_xy=(686.3, 658.3),
         line1=(680, (471.7, 505, 616.7, 886.7)),
         line2=(691.7, [(471.7, "18-Aug-2006", 0), (535, "O", 1), (545, "1297.48", 0),
                        (580, "H", 1), (588, "1302.30", 0), (640, "L", 1),
                        (649, "1293.57", 0), (688.3, "Last", 1), (713.3, "1302.30", 0),
                        (746.7, "V", 1), (754.3, "2.1B", 0), (788.3, "Chg", 1),
                        (811.7, "+4.82 (+0.37%)", 0)], 883.3),
         daily="$SPX (Daily) 1302.30 (18 Aug)", daily_xy=(475, 704.3),
         arrows=[(542.3, 708.3, 598.3, 880), (621, 781.7, 657.7, 935), (723.3, 805, 769, 920)],
         boxes=[]),
]

for p in panels:
    draw_panel(p)

ftext(11.7, 969, "Charts by Chris Ciovacco", ha="left", va="center", size=10, weight="bold")
ftext(201.7, 969, "@CiovaccoCapital", ha="left", va="center", size=10, weight="bold")

fig.savefig("out.png", dpi=100, facecolor="white")
